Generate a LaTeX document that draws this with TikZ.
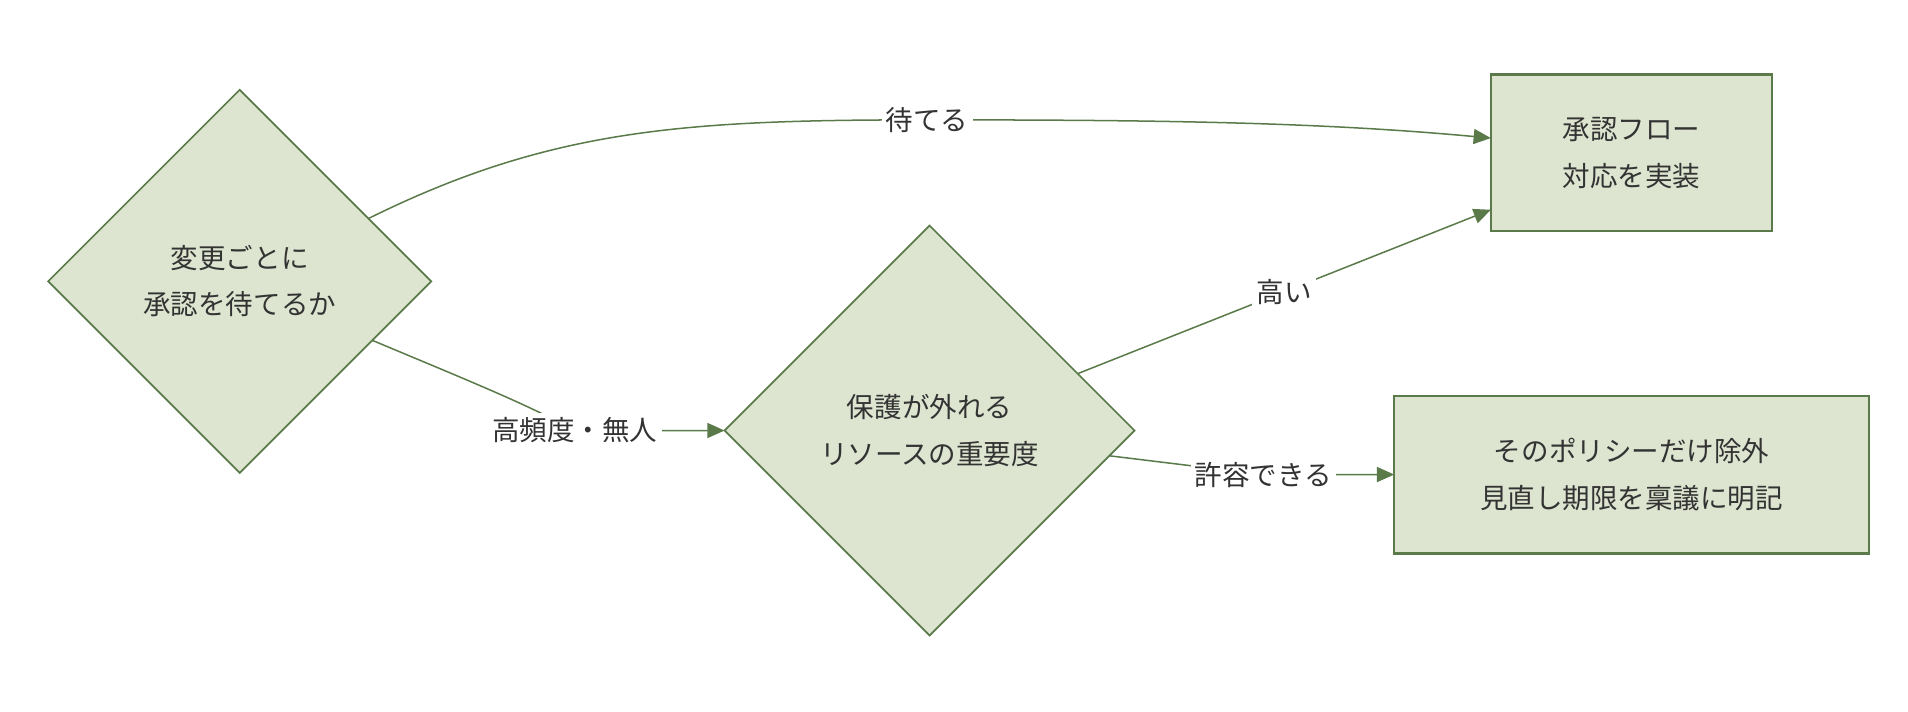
\documentclass[tikz,border=0pt]{standalone}
\usepackage{fontspec}
\setmainfont{Noto Sans CJK JP}
\usepackage{tikz}
\usetikzlibrary{positioning,arrows.meta,calc,shapes.geometric}

\definecolor{boxfill}{HTML}{DDE5D0}
\definecolor{boxline}{HTML}{5A7A4A}
\definecolor{txt}{HTML}{333333}

\begin{document}
\begin{tikzpicture}[
            x=0.01cm, y=-0.01cm,
            outer sep=0pt,
            % ひし形の判断ノード
            decision/.style={
                diamond,
                draw=boxline,
                fill=boxfill,
                aspect=1,
                inner sep=0pt,
                text=txt,
                align=center,
                font=\fontsize{6.4}{10.8}\selectfont
            },
            % 結果の箱
            result/.style={
                rectangle,
                draw=boxline,
                fill=boxfill,
                line width=0.5pt,
                text=txt,
                align=center,
                font=\fontsize{6.4}{10.8}\selectfont
            },
            % 矢印
            link/.style={
                draw=boxline,
                line width=0.35pt,
                -{Triangle[length=4pt,width=3.5pt]}
            },
            lbl/.style={
                fill=white,
                text=txt,
                inner sep=1pt,
                font=\fontsize{6.4}{10.8}\selectfont
            }
        ]
            \useasboundingbox (0,0) rectangle (1560,582);

            % ノード
            \node[decision, minimum width=3.13cm, minimum height=3.13cm] (d1) at (196,230) {変更ごとに\\承認を待てるか};
            \node[decision, minimum width=3.35cm, minimum height=3.35cm] (d2) at (760,352) {保護が外れる\\リソースの重要度};
            \node[result, minimum width=2.3cm, minimum height=1.28cm] (approve) at (1334,125) {承認フロー\\対応を実装};
            \node[result, minimum width=3.88cm, minimum height=1.29cm] (exclude) at (1334,388) {そのポリシーだけ除外\\見直し期限を稟議に明記};

            % 接続
            \coordinate (wait) at (758,98);
            \draw[link] (d1.26) .. controls (450,105) and (560,98) .. (wait)
                .. controls (950,98) and (1080,100) .. (approve.174);
            \node[lbl] at (wait) {待てる};

            \coordinate (busy) at (470,352);
            \draw[link] (d1.-24) .. controls (380,310) and (430,330) .. (busy) -- (d2.west);
            \node[lbl] at (busy) {高頻度・無人};

            \draw[link] (d2.21) -- node[lbl, pos=0.5] {高い} (approve.202);

            \coordinate (ok) at (1033,388);
            \draw[link] (d2.-8) -- (ok) -- (exclude.west);
            \node[lbl] at (ok) {許容できる};

        \end{tikzpicture}
\end{document}
